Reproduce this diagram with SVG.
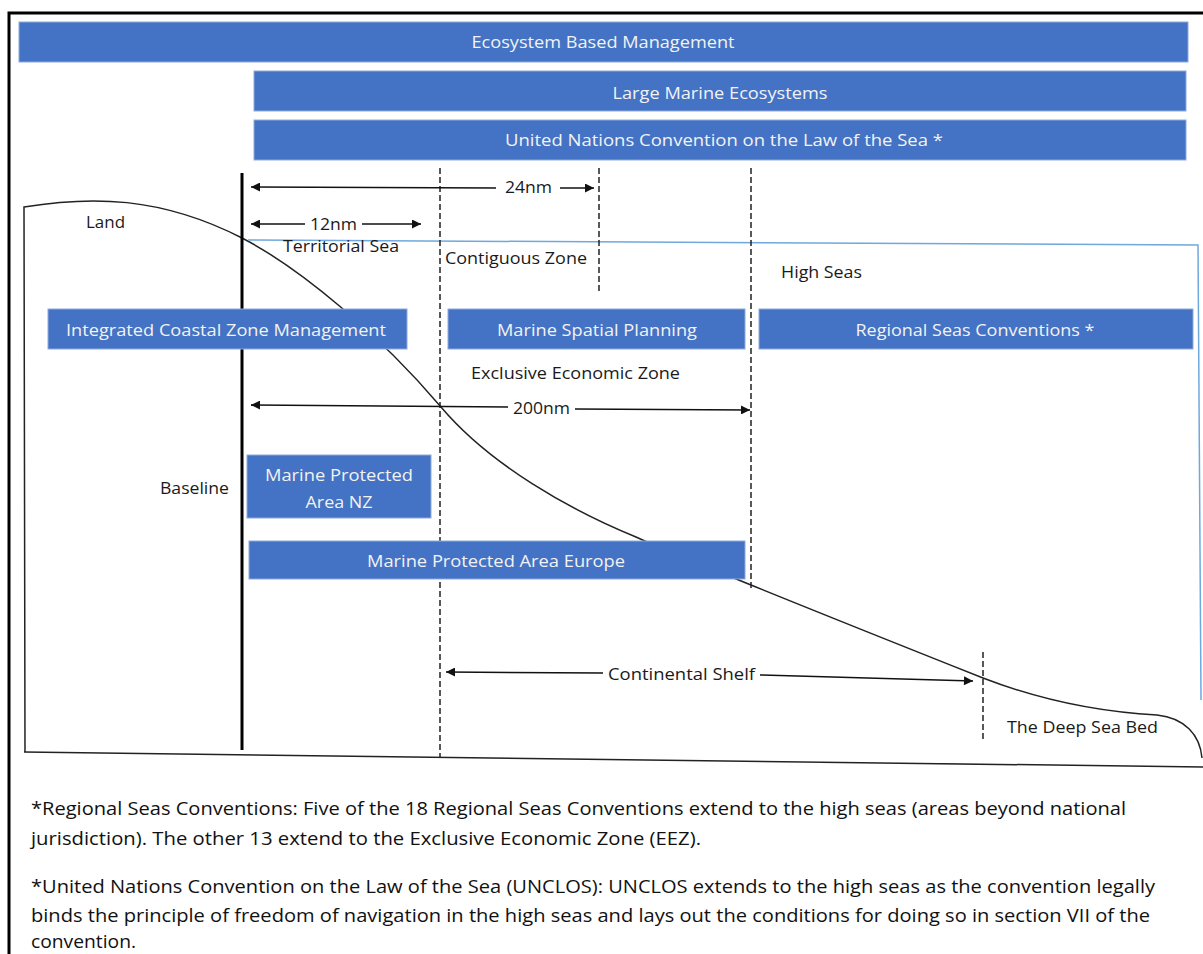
<svg xmlns="http://www.w3.org/2000/svg" width="1203" height="954" viewBox="0 0 1203 954">
<style>
.bar{fill:#4472C4;stroke:#8FAADC;stroke-width:1}
.bt{font-family:"Open Sans","Liberation Sans",sans-serif;font-size:17px;fill:#F2F2F2;text-anchor:middle}
.lt{font-family:"Open Sans","Liberation Sans",sans-serif;font-size:16px;fill:#1a1a1a}
.ft{font-family:"Open Sans","Liberation Sans",sans-serif;font-size:18px;fill:#111}
.dash{fill:none;stroke:#222;stroke-width:1.5;stroke-dasharray:6 3}
.arr{fill:none;stroke:#111;stroke-width:1.5}
.ln{fill:none;stroke:#222;stroke-width:1.5}
</style>
<defs>
<marker id="ah" viewBox="0 0 10 10" refX="10" refY="5" markerWidth="11" markerHeight="9" markerUnits="userSpaceOnUse" orient="auto-start-reverse">
<path d="M0,0 L10,5 L0,10 z" fill="#111"/>
</marker>
</defs>
<rect width="1203" height="954" fill="#fff"/>
<path d="M9,954 L9,13 L1203,13" fill="none" stroke="#000" stroke-width="3"/>

<g id="terrain">
<path class="ln" d="M25,752 L24,207 C90,196 160,196 242,238 C300,268 380,335 441,407 C490,465 570,510 636,537 C680,557 900,645 983,678 C1040,700 1100,712 1157,715 C1185,718 1200,735 1202,758"/>
<path class="ln" d="M24,752 L1203,767"/>
<path d="M248,240 L1198,245 L1201,700" fill="none" stroke="#6FA8DC" stroke-width="1.5"/>
<path d="M242,173 L242,750" stroke="#000" stroke-width="3"/>
</g>

<g id="connectors">
<path class="dash" d="M440,168 L440,758"/>
<path class="dash" d="M599,168 L599,292"/>
<path class="dash" d="M751,168 L751,588"/>
<path class="dash" d="M983,652 L983,740"/>
<path class="arr" d="M496,188 L251,187" marker-end="url(#ah)"/>
<path class="arr" d="M560,188 L594,188" marker-end="url(#ah)"/>
<path class="arr" d="M305,224 L251,224" marker-end="url(#ah)"/>
<path class="arr" d="M362,224 L421,224" marker-end="url(#ah)"/>
<path class="arr" d="M508,407 L251,405" marker-end="url(#ah)"/>
<path class="arr" d="M575,409 L750,410" marker-end="url(#ah)"/>
<path class="arr" d="M603,673 L446,672" marker-end="url(#ah)"/>
<path class="arr" d="M760,675 L973,681" marker-end="url(#ah)"/>
</g>

<g id="labels">
<text class="lt" x="86" y="228" textLength="39" lengthAdjust="spacingAndGlyphs">Land</text>
<text class="lt" x="310" y="230" textLength="47" lengthAdjust="spacingAndGlyphs">12nm</text>
<text class="lt" x="505" y="193" textLength="47" lengthAdjust="spacingAndGlyphs">24nm</text>
<text class="lt" x="283" y="252" textLength="116" lengthAdjust="spacingAndGlyphs">Territorial Sea</text>
<text class="lt" x="445" y="264" textLength="142" lengthAdjust="spacingAndGlyphs">Contiguous Zone</text>
<text class="lt" x="781" y="278" textLength="81" lengthAdjust="spacingAndGlyphs">High Seas</text>
<text class="lt" x="471" y="379" textLength="209" lengthAdjust="spacingAndGlyphs">Exclusive Economic Zone</text>
<text class="lt" x="513" y="414" textLength="57" lengthAdjust="spacingAndGlyphs">200nm</text>
<text class="lt" x="160" y="494" textLength="69" lengthAdjust="spacingAndGlyphs">Baseline</text>
<text class="lt" x="608" y="680" textLength="147" lengthAdjust="spacingAndGlyphs">Continental Shelf</text>
<text class="lt" x="1007" y="733" textLength="151" lengthAdjust="spacingAndGlyphs">The Deep Sea Bed</text>
</g>

<g id="ebm">
<rect class="bar" x="19" y="22" width="1169" height="40"/>
<text class="bt" x="603" y="48" textLength="263" lengthAdjust="spacingAndGlyphs">Ecosystem Based Management</text>
</g>
<g id="lme">
<rect class="bar" x="254" y="71" width="932" height="40"/>
<text class="bt" x="720" y="99" textLength="215" lengthAdjust="spacingAndGlyphs">Large Marine Ecosystems</text>
</g>
<g id="unclos">
<rect class="bar" x="254" y="120" width="932" height="40"/>
<text class="bt" x="724" y="146" textLength="438" lengthAdjust="spacingAndGlyphs">United Nations Convention on the Law of the Sea *</text>
</g>
<g id="iczm">
<rect class="bar" x="48" y="309" width="359" height="40"/>
<text class="bt" x="226" y="336" textLength="320" lengthAdjust="spacingAndGlyphs">Integrated Coastal Zone Management</text>
</g>
<g id="msp">
<rect class="bar" x="448" y="309" width="297" height="40"/>
<text class="bt" x="597" y="336" textLength="200" lengthAdjust="spacingAndGlyphs">Marine Spatial Planning</text>
</g>
<g id="rsc">
<rect class="bar" x="759" y="309" width="434" height="40"/>
<text class="bt" x="975" y="336" textLength="239" lengthAdjust="spacingAndGlyphs">Regional Seas Conventions *</text>
</g>
<g id="mpa-nz">
<rect class="bar" x="247" y="455" width="184" height="63"/>
<text class="bt" x="339" y="481" textLength="148" lengthAdjust="spacingAndGlyphs">Marine Protected</text>
<text class="bt" x="339" y="508" textLength="67" lengthAdjust="spacingAndGlyphs">Area NZ</text>
</g>
<g id="mpa-europe">
<rect class="bar" x="249" y="541" width="496" height="38"/>
<text class="bt" x="496" y="567" textLength="258" lengthAdjust="spacingAndGlyphs">Marine Protected Area Europe</text>
</g>

<g id="footnotes">
<text class="ft" x="31" y="815" textLength="1095" lengthAdjust="spacingAndGlyphs">*Regional Seas Conventions: Five of the 18 Regional Seas Conventions extend to the high seas (areas beyond national</text>
<text class="ft" x="31" y="845" textLength="670" lengthAdjust="spacingAndGlyphs">jurisdiction). The other 13 extend to the Exclusive Economic Zone (EEZ).</text>
<text class="ft" x="31" y="893" textLength="1124" lengthAdjust="spacingAndGlyphs">*United Nations Convention on the Law of the Sea (UNCLOS): UNCLOS extends to the high seas as the convention legally</text>
<text class="ft" x="31" y="922" textLength="1119" lengthAdjust="spacingAndGlyphs">binds the principle of freedom of navigation in the high seas and lays out the conditions for doing so in section VII of the</text>
<text class="ft" x="31" y="948" textLength="105" lengthAdjust="spacingAndGlyphs">convention.</text>
</g>
</svg>
